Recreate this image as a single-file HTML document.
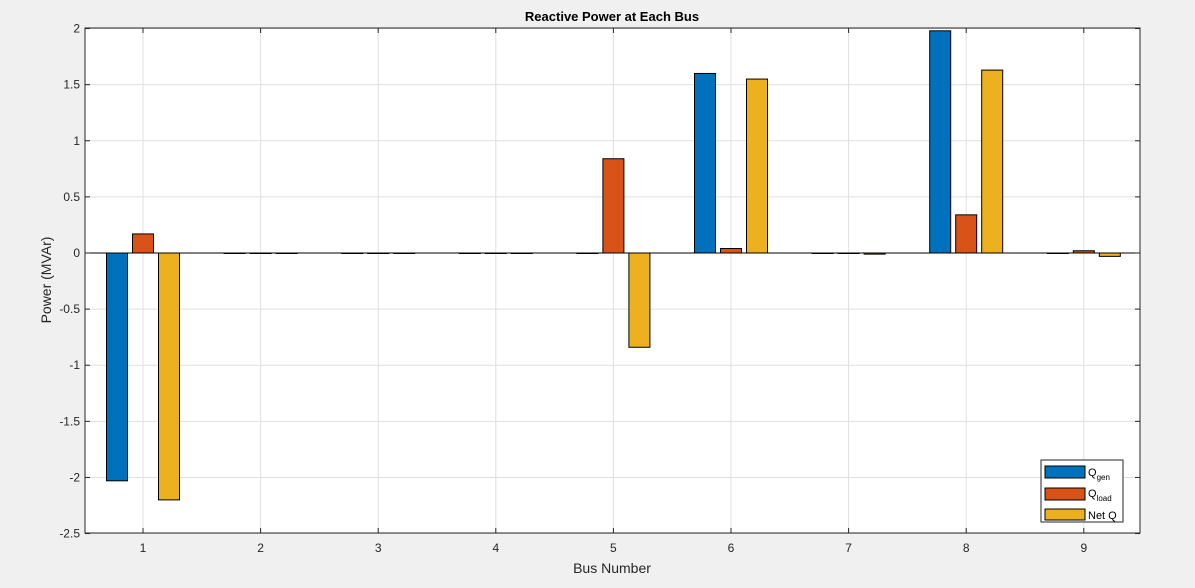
<!DOCTYPE html>
<html><head><meta charset="utf-8"><style>
body{margin:0;background:#f0f0f0;font-family:"Liberation Sans",sans-serif;}
svg{display:block}
text{font-family:"Liberation Sans",sans-serif;}
</style></head><body>
<svg id="c" width="1195" height="588">
<rect x="85" y="28" width="1055" height="505" fill="#fff"/>
<g id="grid"></g>
<line x1="85" x2="1140" y1="253" y2="253" stroke="#000" stroke-width="1"/>
<g id="bars"></g>
<rect x="85" y="28" width="1055" height="505" fill="none" stroke="#262626" stroke-width="1"/>
<g id="ticks"></g>
<text x="612" y="21" text-anchor="middle" font-size="13" font-weight="bold" fill="#000">Reactive Power at Each Bus</text>
<text x="612" y="573" text-anchor="middle" font-size="14" fill="#262626">Bus Number</text>
<text transform="translate(51,280) rotate(-90)" text-anchor="middle" font-size="14" fill="#262626">Power (MVAr)</text>
<g>
<rect x="1041" y="460" width="82" height="62" fill="#fff" stroke="#262626"/>
<rect x="1045" y="466" width="40" height="12" fill="#0072BD" stroke="#000"/>
<text x="1088" y="476" font-size="11" fill="#000">Q<tspan font-size="8" dy="4">gen</tspan></text>
<rect x="1045" y="488" width="40" height="12" fill="#D95319" stroke="#000"/>
<text x="1088" y="497" font-size="11" fill="#000">Q<tspan font-size="8" dy="4">load</tspan></text>
<rect x="1045" y="509" width="40" height="11" fill="#EDB120" stroke="#000"/>
<text x="1088" y="519" font-size="11" fill="#000">Net Q</text>
</g>
</svg>
<script>
const buses=[1,2,3,4,5,6,7,8,9];
const qGen=[-2.03,0,0,0,0,1.6,0,1.98,0];
const qLoad=[0.17,0,0,0,0.84,0.04,0,0.34,0.02];
const netQ=[-2.2,0,0,0,-0.84,1.55,-0.01,1.63,-0.03];
const yTicks=[2,1.5,1,0.5,0,-0.5,-1,-1.5,-2,-2.5];
const yTickLabels=["2","1.5","1","0.5","0","-0.5","-1","-1.5","-2","-2.5"];
const NS="http://www.w3.org/2000/svg";
const X=b=>143+(b-1)*117.6;
const Y=v=>253-v*112.22;
const g=document.getElementById('grid'),t=document.getElementById('ticks'),br=document.getElementById('bars');
function mk(tag,a,p){const e=document.createElementNS(NS,tag);for(const k in a)e.setAttribute(k,a[k]);p.appendChild(e);return e;}
yTicks.forEach((v,i)=>{
 const l=mk('line',{x1:85,x2:1140,y1:Y(v),y2:Y(v),stroke:'#dfdfdf'},g);
 
 
 mk('line',{x1:85,x2:90,y1:Y(v),y2:Y(v),stroke:'#262626'},t);
 mk('line',{x1:1135,x2:1140,y1:Y(v),y2:Y(v),stroke:'#262626'},t);
 const tx=mk('text',{x:80,y:Y(v)+4,'text-anchor':'end','font-size':12,fill:'#262626'},t);
 tx.textContent=yTickLabels[i];
 
 
});
buses.forEach(b=>{
 const l=mk('line',{x1:X(b),x2:X(b),y1:28,y2:533,stroke:'#dfdfdf'},g);
 
 
 mk('line',{x1:X(b),x2:X(b),y1:528,y2:533,stroke:'#262626'},t);
 mk('line',{x1:X(b),x2:X(b),y1:28,y2:33,stroke:'#262626'},t);
 const tx=mk('text',{x:X(b),y:552,'text-anchor':'middle','font-size':12,fill:'#262626'},t);
 tx.textContent=b;
 
 
});
const series=[[qGen,'#0072BD',-26,'qgen'],[qLoad,'#D95319',0,'qload'],[netQ,'#EDB120',26,'netq']];
series.forEach(([vals,col,off,nm])=>{
 vals.forEach((v,i)=>{
  const cx=X(buses[i])+off,y0=Y(0),y1=Y(v);
  const r=mk('rect',{x:cx-10.5,y:Math.min(y0,y1),width:21,height:Math.max(Math.abs(y1-y0),0.5),fill:col,stroke:'#000','stroke-width':1},br);
  
  
 });
});
</script>
</body></html>
